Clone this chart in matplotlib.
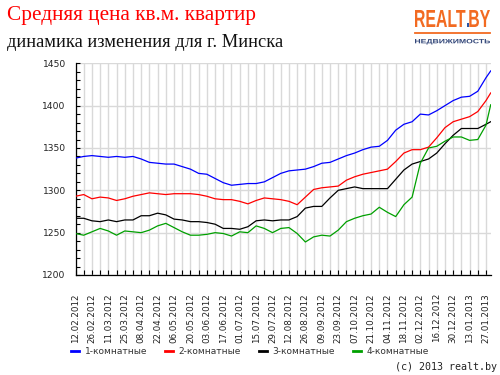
import matplotlib
matplotlib.use('Agg')
import matplotlib.pyplot as plt
import matplotlib.dates as mdates
import pandas as pd
from matplotlib.textpath import TextPath, text_to_path
from matplotlib.patches import PathPatch
from matplotlib.font_manager import FontProperties
from matplotlib.transforms import Affine2D
from matplotlib.ticker import MultipleLocator, FixedLocator
from matplotlib.lines import Line2D

# ---------------- data ----------------
week_dates = pd.date_range('2012-02-12', periods=51, freq='7D')
dates = list(week_dates) + [pd.Timestamp('2013-01-31')]

tick_labels = ['12.02.2012', '26.02.2012', '11.03.2012', '25.03.2012', '08.04.2012',
               '22.04.2012', '06.05.2012', '20.05.2012', '03.06.2012', '17.06.2012',
               '01.07.2012', '15.07.2012', '29.07.2012', '12.08.2012', '26.08.2012',
               '09.09.2012', '23.09.2012', '07.10.2012', '21.10.2012', '04.11.2012',
               '18.11.2012', '02.12.2012', '16.12.2012', '30.12.2012', '13.01.2013',
               '27.01.2013']

series_names = ['1-комнатные', '2-комнатные', '3-комнатные', '4-комнатные']

rooms1 = [1338, 1340, 1341, 1340, 1339, 1340, 1339, 1340, 1337, 1333,
          1332, 1331, 1331, 1328, 1325, 1320, 1319, 1314, 1309, 1306,
          1307, 1308, 1308, 1310, 1315, 1320, 1323, 1324, 1325, 1328,
          1332, 1333, 1337, 1341, 1344, 1348, 1351, 1352, 1359, 1371,
          1378, 1381, 1390, 1389, 1394, 1400, 1406, 1410, 1411, 1417, 1433,
          1441]
rooms2 = [1293, 1295, 1290, 1292, 1291, 1288, 1290, 1293, 1295, 1297,
          1296, 1295, 1296, 1296, 1296, 1295, 1293, 1290, 1289, 1289,
          1287, 1284, 1288, 1291, 1290, 1289, 1287, 1283, 1292, 1301,
          1303, 1304, 1305, 1312, 1316, 1319, 1321, 1323, 1325, 1334,
          1344, 1348, 1348, 1351, 1362, 1374, 1381, 1384, 1387, 1393, 1406,
          1415]
rooms3 = [1267, 1267, 1264, 1263, 1265, 1263, 1265, 1265, 1270, 1270,
          1273, 1271, 1266, 1265, 1263, 1263, 1262, 1260, 1255, 1255,
          1254, 1257, 1264, 1265, 1264, 1265, 1265, 1269, 1279, 1281,
          1281, 1291, 1300, 1302, 1304, 1302, 1302, 1302, 1302, 1313,
          1324, 1331, 1334, 1337, 1344, 1355, 1365, 1373, 1373, 1373, 1378,
          1381]
rooms4 = [1249, 1247, 1251, 1255, 1252, 1247, 1252, 1251, 1250, 1253,
          1258, 1261, 1256, 1251, 1247, 1247, 1248, 1250, 1249, 1246,
          1251, 1250, 1258, 1255, 1250, 1255, 1256, 1249, 1239, 1245,
          1247, 1246, 1253, 1263, 1267, 1270, 1272, 1280, 1274, 1269,
          1283, 1292, 1332, 1350, 1352, 1358, 1363, 1363, 1359, 1360, 1377,
          1401]

colors = ['#0000ff', '#ff0000', '#000000', '#00a000']

# ---------------- figure ----------------
W, H = 500, 375
fig = plt.figure(figsize=(5, 3.75), dpi=100, facecolor='white')

ax = fig.add_axes([75.5 / W, 1 - 275 / H, (490.7 - 75.5) / W, (275 - 63.3) / H])
ax.set_facecolor('white')

for vals, c, name in zip([rooms1, rooms2, rooms3, rooms4], colors, series_names):
    ax.plot(dates, vals, color=c, lw=0.9, label=name, zorder=3)

ax.set_xlim(dates[0], dates[-1])
ax.set_ylim(1200, 1450)

major_pos = pd.to_datetime(tick_labels, format='%d.%m.%Y')
minor_pos = [d for d in week_dates if d not in set(major_pos)]
ax.xaxis.set_major_locator(FixedLocator(mdates.date2num(major_pos)))
ax.xaxis.set_minor_locator(FixedLocator(mdates.date2num(minor_pos)))
ax.set_xticklabels(tick_labels, rotation=90, fontsize=6.3, color='#222222',
                   va='top', ha='center')

ax.yaxis.set_major_locator(MultipleLocator(50))
ax.yaxis.set_minor_locator(MultipleLocator(10))
ax.tick_params(axis='y', which='both', direction='in', length=3, width=0.8,
               labelsize=6.6, pad=7, labelcolor='#222222')
ax.tick_params(axis='x', which='both', direction='in', length=3.6, width=0.8,
               pad=13)

ax.grid(True, which='major', axis='y', color='#d9d9d9', lw=1.0, zorder=0)
ax.grid(True, which='both', axis='x', color='#d9d9d9', lw=1.0, zorder=0)
ax.set_axisbelow(True)

for s in ['top', 'right']:
    ax.spines[s].set_visible(False)
for s in ['left', 'bottom']:
    ax.spines[s].set_color('black')
    ax.spines[s].set_linewidth(0.9)

leg = ax.legend(loc='center', bbox_to_anchor=(0.5, 1 - 352 / H),
                bbox_transform=fig.transFigure, ncol=4, frameon=False,
                fontsize=6.5, handlelength=0.9, handletextpad=0.6,
                columnspacing=2.0, borderpad=0)
for h in leg.get_lines():
    h.set_linewidth(2)
for t in leg.get_texts():
    t.set_color('#333333')

# ---------------- header texts ----------------
fig.text(7 / W, 1 - 20 / H, 'Средняя цена кв.м. квартир', color='#ff0000',
         fontsize=15.3, family='Liberation Serif', ha='left', va='baseline')
fig.text(7 / W, 1 - 46.7 / H, 'динамика изменения для г. Минска', color='#111111',
         fontsize=13.2, family='Liberation Serif', ha='left', va='baseline')
fig.text(497 / W, 1 - 367 / H, '(c) 2013 realt.by', color='#222222',
         fontsize=7.2, family='DejaVu Sans Mono', ha='right', va='center')

# ---------------- logo ----------------
ov = fig.add_axes([0, 0, 1, 1], zorder=-1)
ov.set_xlim(0, W)
ov.set_ylim(0, H)
ov.axis('off')

fp_logo = FontProperties(family='Liberation Sans', weight='bold', size=10)


def text_adv(s):
    w, _, _ = text_to_path.get_text_width_height_descent(s, fp_logo, ismath=False)
    return w


full = TextPath((0, 0), 'REALT.BY', size=10, prop=fp_logo)
ext = full.get_extents()
cap = TextPath((0, 0), 'H', size=10, prop=fp_logo).get_extents().height
sx = (490 - 415) / ext.width
sy = (27 - 10) / cap
parts = [('REALT', 0.0, '#f26a21'),
         ('.', text_adv('REALT'), '#2a56a6'),
         ('BY', text_adv('REALT.'), '#f26a21')]
for s, off, col in parts:
    p = TextPath((off, 0), s, size=10, prop=fp_logo)
    tr = Affine2D().translate(-ext.x0, 0).scale(sx, sy).translate(415, H - 27)
    ov.add_patch(PathPatch(tr.transform_path(p), color=col, lw=0))

ov.add_line(Line2D([415, 490], [H - 33, H - 33], color='#f26a21', lw=1.3))

p2 = TextPath((0, 0), 'НЕДВИЖИМОСТЬ', size=10, prop=fp_logo)
e2 = p2.get_extents()
tr2 = Affine2D().translate(-e2.x0, 0).scale(75 / e2.width, 4.3 / cap).translate(415, H - 43.3)
ov.add_patch(PathPatch(tr2.transform_path(p2), color='#34487a', lw=0))

fig.savefig('out.png', dpi=100, facecolor='white')
